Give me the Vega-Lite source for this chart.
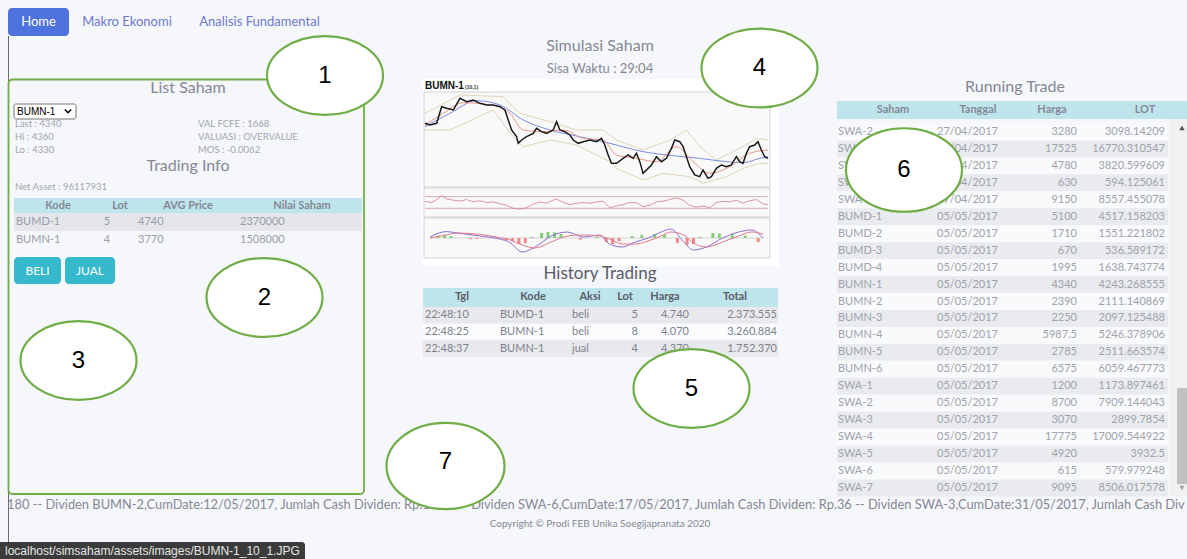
{
"$schema":"https://vega.github.io/schema/vega-lite/v6.json",
"width":1187,"height":559,"padding":0,"autosize":{"type":"none"},
"background":"#f5f7fa",
"config":{"view":{"stroke":null},"axis":{"disable":true},"legend":{"disable":true},"text":{"font":"Lato","fontSize":11,"color":"#858796"},"locale":{"number":{"decimal":",","thousands":".","grouping":[3],"currency":["Rp",""]}}},
"data":{"values":[{}]},
"datasets":{
"lefttable":[{"row":0,"kode":"BUMD-1","lot":5,"avg":4740,"nilai":2370000},{"row":1,"kode":"BUMN-1","lot":4,"avg":3770,"nilai":1508000}],
"history":[{"row":0,"tgl":"22:48:10","kode":"BUMD-1","aksi":"beli","lot":5,"harga":4740,"total":2373555},{"row":1,"tgl":"22:48:25","kode":"BUMN-1","aksi":"beli","lot":8,"harga":4070,"total":3260884},{"row":2,"tgl":"22:48:37","kode":"BUMN-1","aksi":"jual","lot":4,"harga":4370,"total":1752370}],
"runtrade":[
{"row":0,"saham":"SWA-2","tanggal":"27/04/2017","harga":3280,"lot":3098.14209},
{"row":1,"saham":"SWA-3","tanggal":"27/04/2017","harga":17525,"lot":16770.310547},
{"row":2,"saham":"SWA-4","tanggal":"27/04/2017","harga":4780,"lot":3820.599609},
{"row":3,"saham":"SWA-5","tanggal":"27/04/2017","harga":630,"lot":594.125061},
{"row":4,"saham":"SWA-6","tanggal":"27/04/2017","harga":9150,"lot":8557.455078},
{"row":5,"saham":"BUMD-1","tanggal":"05/05/2017","harga":5100,"lot":4517.158203},
{"row":6,"saham":"BUMD-2","tanggal":"05/05/2017","harga":1710,"lot":1551.221802},
{"row":7,"saham":"BUMD-3","tanggal":"05/05/2017","harga":670,"lot":536.589172},
{"row":8,"saham":"BUMD-4","tanggal":"05/05/2017","harga":1995,"lot":1638.743774},
{"row":9,"saham":"BUMN-1","tanggal":"05/05/2017","harga":4340,"lot":4243.268555},
{"row":10,"saham":"BUMN-2","tanggal":"05/05/2017","harga":2390,"lot":2111.140869},
{"row":11,"saham":"BUMN-3","tanggal":"05/05/2017","harga":2250,"lot":2097.125488},
{"row":12,"saham":"BUMN-4","tanggal":"05/05/2017","harga":5987.5,"lot":5246.378906},
{"row":13,"saham":"BUMN-5","tanggal":"05/05/2017","harga":2785,"lot":2511.663574},
{"row":14,"saham":"BUMN-6","tanggal":"05/05/2017","harga":6575,"lot":6059.467773},
{"row":15,"saham":"SWA-1","tanggal":"05/05/2017","harga":1200,"lot":1173.897461},
{"row":16,"saham":"SWA-2","tanggal":"05/05/2017","harga":8700,"lot":7909.144043},
{"row":17,"saham":"SWA-3","tanggal":"05/05/2017","harga":3070,"lot":2899.7854},
{"row":18,"saham":"SWA-4","tanggal":"05/05/2017","harga":17775,"lot":17009.544922},
{"row":19,"saham":"SWA-5","tanggal":"05/05/2017","harga":4920,"lot":3932.5},
{"row":20,"saham":"SWA-6","tanggal":"05/05/2017","harga":615,"lot":579.979248},
{"row":21,"saham":"SWA-7","tanggal":"05/05/2017","harga":9095,"lot":8506.017578}],
"close":[{"day":0,"p":5550},{"day":3,"p":5525},{"day":7,"p":5550},{"day":10,"p":5800},{"day":13,"p":5775},{"day":17,"p":5750},{"day":21,"p":5925},{"day":25,"p":5875},{"day":29,"p":5900},{"day":33,"p":5850},{"day":37,"p":5825},{"day":41,"p":5825},{"day":45,"p":5800},{"day":48,"p":5750},{"day":50,"p":5600},{"day":52,"p":5450},{"day":55,"p":5350},{"day":56,"p":5250},{"day":58,"p":5300},{"day":61,"p":5350},{"day":65,"p":5400},{"day":67,"p":5475},{"day":70,"p":5425},{"day":73,"p":5400},{"day":77,"p":5450},{"day":79,"p":5575},{"day":81,"p":5450},{"day":84,"p":5425},{"day":87,"p":5375},{"day":89,"p":5300},{"day":92,"p":5250},{"day":95,"p":5275},{"day":99,"p":5300},{"day":103,"p":5275},{"day":106,"p":5325},{"day":108,"p":5225},{"day":110,"p":5075},{"day":112,"p":4950},{"day":115,"p":4950},{"day":119,"p":5025},{"day":122,"p":5075},{"day":125,"p":5025},{"day":127,"p":5100},{"day":129,"p":4975},{"day":131,"p":4800},{"day":133,"p":4850},{"day":136,"p":4925},{"day":139,"p":5050},{"day":142,"p":4975},{"day":145,"p":5025},{"day":148,"p":5175},{"day":150,"p":5300},{"day":153,"p":5275},{"day":155,"p":5200},{"day":157,"p":5050},{"day":159,"p":4900},{"day":162,"p":4775},{"day":165,"p":4750},{"day":167,"p":4850},{"day":170,"p":4725},{"day":172,"p":4750},{"day":175,"p":4875},{"day":178,"p":4925},{"day":181,"p":4900},{"day":184,"p":4925},{"day":187,"p":5050},{"day":189,"p":4975},{"day":191,"p":4950},{"day":193,"p":5100},{"day":195,"p":5200},{"day":198,"p":5225},{"day":200,"p":5275},{"day":202,"p":5150},{"day":204,"p":5050},{"day":206,"p":5025}],
"mablue":[{"day":0,"p":5500},{"day":15,"p":5700},{"day":31,"p":5890},{"day":45,"p":5825},{"day":59,"p":5600},{"day":75,"p":5450},{"day":91,"p":5360},{"day":111,"p":5250},{"day":131,"p":5125},{"day":151,"p":5060},{"day":165,"p":5025},{"day":181,"p":4975},{"day":191,"p":4960},{"day":201,"p":5025},{"day":206,"p":5050}],
"mared":[{"day":0,"p":5525},{"day":11,"p":5700},{"day":23,"p":5860},{"day":43,"p":5810},{"day":51,"p":5700},{"day":59,"p":5450},{"day":71,"p":5425},{"day":83,"p":5450},{"day":95,"p":5325},{"day":107,"p":5300},{"day":115,"p":5075},{"day":127,"p":5025},{"day":139,"p":4975},{"day":151,"p":5200},{"day":161,"p":4975},{"day":171,"p":4800},{"day":183,"p":4900},{"day":195,"p":5100},{"day":206,"p":5150}],
"bbup":[{"day":0,"p":5700},{"day":21,"p":5975},{"day":47,"p":5950},{"day":57,"p":5700},{"day":75,"p":5575},{"day":91,"p":5450},{"day":107,"p":5450},{"day":115,"p":5300},{"day":131,"p":5150},{"day":147,"p":5300},{"day":157,"p":5450},{"day":165,"p":5200},{"day":175,"p":5000},{"day":191,"p":5200},{"day":199,"p":5325},{"day":206,"p":5300}],
"bblo":[{"day":0,"p":5450},{"day":15,"p":5450},{"day":41,"p":5750},{"day":53,"p":5350},{"day":59,"p":5200},{"day":75,"p":5300},{"day":91,"p":5225},{"day":111,"p":4975},{"day":115,"p":4875},{"day":131,"p":4700},{"day":143,"p":4800},{"day":159,"p":4750},{"day":167,"p":4650},{"day":181,"p":4750},{"day":191,"p":4875},{"day":201,"p":4950},{"day":206,"p":4950}],
"rsi":[{"day":0,"v":54},{"day":4,"v":50},{"day":7,"v":60},{"day":10,"v":74},{"day":13,"v":62},{"day":17,"v":58},{"day":21,"v":55},{"day":25,"v":60},{"day":29,"v":52},{"day":33,"v":56},{"day":37,"v":50},{"day":41,"v":52},{"day":45,"v":46},{"day":49,"v":40},{"day":53,"v":30},{"day":57,"v":27},{"day":61,"v":32},{"day":65,"v":45},{"day":69,"v":52},{"day":73,"v":48},{"day":77,"v":58},{"day":79,"v":62},{"day":83,"v":50},{"day":87,"v":43},{"day":91,"v":47},{"day":95,"v":50},{"day":99,"v":47},{"day":103,"v":52},{"day":107,"v":54},{"day":111,"v":32},{"day":115,"v":38},{"day":119,"v":43},{"day":123,"v":50},{"day":127,"v":49},{"day":131,"v":36},{"day":135,"v":40},{"day":139,"v":52},{"day":143,"v":55},{"day":147,"v":60},{"day":151,"v":66},{"day":155,"v":58},{"day":159,"v":40},{"day":163,"v":34},{"day":167,"v":38},{"day":171,"v":32},{"day":175,"v":50},{"day":179,"v":54},{"day":183,"v":52},{"day":187,"v":58},{"day":191,"v":48},{"day":195,"v":56},{"day":199,"v":60},{"day":203,"v":45},{"day":206,"v":43}],
"macd":[{"day":0,"m":0.05,"s":0.0},{"day":10,"m":0.32,"s":0.15},{"day":17,"m":0.25,"s":0.25},{"day":31,"m":0.1,"s":0.18},{"day":43,"m":-0.05,"s":0.02},{"day":49,"m":-0.2,"s":-0.08},{"day":57,"m":-0.7,"s":-0.35},{"day":65,"m":-0.45,"s":-0.5},{"day":75,"m":0.1,"s":-0.2},{"day":85,"m":0.3,"s":0.1},{"day":95,"m":0.05,"s":0.15},{"day":105,"m":0.15,"s":0.1},{"day":111,"m":-0.3,"s":-0.05},{"day":119,"m":-0.45,"s":-0.3},{"day":127,"m":-0.2,"s":-0.3},{"day":135,"m":0.0,"s":-0.15},{"day":143,"m":0.3,"s":0.1},{"day":149,"m":0.45,"s":0.3},{"day":157,"m":-0.2,"s":0.15},{"day":163,"m":-0.6,"s":-0.25},{"day":171,"m":-0.45,"s":-0.45},{"day":181,"m":0.0,"s":-0.2},{"day":191,"m":0.3,"s":0.1},{"day":199,"m":0.4,"s":0.3},{"day":206,"m":0.0,"s":0.2}],
"hist":[{"day":5,"h":0.12},{"day":9,"h":0.16},{"day":13,"h":0.1},{"day":25,"h":-0.06},{"day":29,"h":-0.05},{"day":47,"h":-0.1},{"day":51,"h":-0.15},{"day":55,"h":-0.3},{"day":59,"h":-0.25},{"day":63,"h":0.05},{"day":69,"h":0.25},{"day":73,"h":0.3},{"day":77,"h":0.28},{"day":81,"h":0.2},{"day":93,"h":-0.08},{"day":103,"h":0.06},{"day":109,"h":-0.2},{"day":113,"h":-0.3},{"day":117,"h":-0.15},{"day":125,"h":0.1},{"day":131,"h":0.15},{"day":139,"h":0.2},{"day":145,"h":0.18},{"day":153,"h":-0.25},{"day":159,"h":-0.35},{"day":163,"h":-0.3},{"day":167,"h":0.05},{"day":175,"h":0.25},{"day":179,"h":0.22},{"day":187,"h":0.2},{"day":195,"h":0.12},{"day":203,"h":-0.2}]
},
"layer":[
{"layer":[
 {"mark":{"type":"rect","fill":"#4e73df","cornerRadius":4},"encoding":{"x":{"datum":8,"type":"quantitative","scale":{"domain":[0,1187],"range":[0,1187],"nice":false,"zero":false}},"x2":{"datum":69},"y":{"datum":8,"type":"quantitative","scale":{"domain":[0,559],"range":[0,559],"nice":false,"zero":false}},"y2":{"datum":36}}},
 {"mark":{"type":"text","text":"Home","color":"#ffffff","fontSize":13},"encoding":{"x":{"datum":38.5},"y":{"datum":22}}},
 {"mark":{"type":"text","text":"Makro Ekonomi","color":"#6c78d0","fontSize":13},"encoding":{"x":{"datum":127},"y":{"datum":22}}},
 {"mark":{"type":"text","text":"Analisis Fundamental","color":"#6c78d0","fontSize":13},"encoding":{"x":{"datum":259.5},"y":{"datum":22}}},
 {"mark":{"type":"rule","color":"#6b6b6b","strokeWidth":1},"encoding":{"x":{"datum":8.5},"y":{"datum":36},"y2":{"datum":543}}},
 {"mark":{"type":"rect","fillOpacity":0,"stroke":"#70ad47","strokeWidth":1.8,"cornerRadius":4},"encoding":{"x":{"datum":8.5},"x2":{"datum":364},"y":{"datum":79.5},"y2":{"datum":494}}},
 {"mark":{"type":"text","text":"List Saham","fontSize":16},"encoding":{"x":{"datum":188},"y":{"datum":88}}},
 {"mark":{"type":"rect","fill":"#ffffff","stroke":"#767676","strokeWidth":1,"cornerRadius":2},"encoding":{"x":{"datum":14},"x2":{"datum":76},"y":{"datum":104},"y2":{"datum":119}}},
 {"mark":{"type":"text","text":"BUMN-1","font":"Liberation Sans","fontSize":10,"color":"#000000","align":"left"},"encoding":{"x":{"datum":17},"y":{"datum":112}}},
 {"mark":{"type":"point","shape":"M-0.8,-0.35L0,0.45L0.8,-0.35","size":64,"filled":false,"stroke":"#000000","strokeWidth":1.4,"opacity":1},"encoding":{"x":{"datum":68},"y":{"datum":111}}},
 {"mark":{"type":"text","text":"Last : 4340","fontSize":9.5,"color":"#a3a5b0","align":"left"},"encoding":{"x":{"datum":15},"y":{"datum":124}}},
 {"mark":{"type":"text","text":"Hi : 4360","fontSize":9.5,"color":"#a3a5b0","align":"left"},"encoding":{"x":{"datum":15},"y":{"datum":137}}},
 {"mark":{"type":"text","text":"Lo : 4330","fontSize":9.5,"color":"#a3a5b0","align":"left"},"encoding":{"x":{"datum":15},"y":{"datum":150}}},
 {"mark":{"type":"text","text":"VAL FCFE : 1668","fontSize":9.5,"color":"#a3a5b0","align":"left"},"encoding":{"x":{"datum":198},"y":{"datum":124}}},
 {"mark":{"type":"text","text":"VALUASI : OVERVALUE","fontSize":9.5,"color":"#a3a5b0","align":"left"},"encoding":{"x":{"datum":198},"y":{"datum":137}}},
 {"mark":{"type":"text","text":"MOS : -0.0062","fontSize":9.5,"color":"#a3a5b0","align":"left"},"encoding":{"x":{"datum":198},"y":{"datum":150}}},
 {"mark":{"type":"text","text":"Trading Info","fontSize":16},"encoding":{"x":{"datum":188},"y":{"datum":166}}},
 {"mark":{"type":"text","text":"Net Asset : 96117931","fontSize":9.5,"color":"#a3a5b0","align":"left"},"encoding":{"x":{"datum":15},"y":{"datum":187}}},
 {"mark":{"type":"rect","fill":"#bee5eb"},"encoding":{"x":{"datum":14},"x2":{"datum":362},"y":{"datum":198},"y2":{"datum":213}}},
 {"mark":{"type":"text","text":"Kode","fontWeight":"bold"},"encoding":{"x":{"datum":58},"y":{"datum":206}}},
 {"mark":{"type":"text","text":"Lot","fontWeight":"bold"},"encoding":{"x":{"datum":120},"y":{"datum":206}}},
 {"mark":{"type":"text","text":"AVG Price","fontWeight":"bold"},"encoding":{"x":{"datum":188},"y":{"datum":206}}},
 {"mark":{"type":"text","text":"Nilai Saham","fontWeight":"bold"},"encoding":{"x":{"datum":302},"y":{"datum":206}}},
 {"mark":{"type":"rect","fill":"#36b9cc","cornerRadius":4},"encoding":{"x":{"datum":14},"x2":{"datum":61},"y":{"datum":257},"y2":{"datum":284}}},
 {"mark":{"type":"rect","fill":"#36b9cc","cornerRadius":4},"encoding":{"x":{"datum":65},"x2":{"datum":115},"y":{"datum":257},"y2":{"datum":284}}},
 {"mark":{"type":"text","text":"BELI","color":"#ffffff","fontSize":12},"encoding":{"x":{"datum":37.5},"y":{"datum":270.5}}},
 {"mark":{"type":"text","text":"JUAL","color":"#ffffff","fontSize":12},"encoding":{"x":{"datum":90},"y":{"datum":270.5}}},
 {"mark":{"type":"text","text":"Simulasi Saham","fontSize":16},"encoding":{"x":{"datum":600},"y":{"datum":46}}},
 {"mark":{"type":"text","text":"Sisa Waktu : 29:04","fontSize":13},"encoding":{"x":{"datum":600},"y":{"datum":69}}},
 {"mark":{"type":"rect","fill":"#ffffff"},"encoding":{"x":{"datum":422},"x2":{"datum":779},"y":{"datum":79},"y2":{"datum":266}}},
 {"mark":{"type":"rect","fill":"#f9f9f9","stroke":"#c8c8c8","strokeWidth":0.8},"encoding":{"x":{"datum":424},"x2":{"datum":770},"y":{"datum":92},"y2":{"datum":187}}},
 {"mark":{"type":"rect","fill":"#f9f9f9","stroke":"#c8c8c8","strokeWidth":0.8},"encoding":{"x":{"datum":424},"x2":{"datum":770},"y":{"datum":188},"y2":{"datum":217}}},
 {"mark":{"type":"rect","fill":"#f9f9f9","stroke":"#c8c8c8","strokeWidth":0.8},"encoding":{"x":{"datum":424},"x2":{"datum":770},"y":{"datum":218},"y2":{"datum":258}}},
 {"mark":{"type":"text","text":"BUMN-1","font":"Liberation Sans","fontSize":10,"fontWeight":"bold","color":"#111111","align":"left"},"encoding":{"x":{"datum":425},"y":{"datum":86}}},
 {"mark":{"type":"text","text":"(10,1)","font":"Liberation Sans","fontSize":5,"fontWeight":"bold","color":"#333333","align":"left"},"encoding":{"x":{"datum":465},"y":{"datum":87}}},
 {"mark":{"type":"text","text":"History Trading","fontSize":17,"color":"#5a5c69"},"encoding":{"x":{"datum":600},"y":{"datum":274}}},
 {"mark":{"type":"rect","fill":"#bee5eb"},"encoding":{"x":{"datum":423},"x2":{"datum":778},"y":{"datum":288},"y2":{"datum":307}}},
 {"mark":{"type":"text","text":"Tgl","fontWeight":"bold","color":"#5a5c69"},"encoding":{"x":{"datum":462},"y":{"datum":297}}},
 {"mark":{"type":"text","text":"Kode","fontWeight":"bold","color":"#5a5c69"},"encoding":{"x":{"datum":533},"y":{"datum":297}}},
 {"mark":{"type":"text","text":"Aksi","fontWeight":"bold","color":"#5a5c69"},"encoding":{"x":{"datum":590},"y":{"datum":297}}},
 {"mark":{"type":"text","text":"Lot","fontWeight":"bold","color":"#5a5c69"},"encoding":{"x":{"datum":625},"y":{"datum":297}}},
 {"mark":{"type":"text","text":"Harga","fontWeight":"bold","color":"#5a5c69"},"encoding":{"x":{"datum":665},"y":{"datum":297}}},
 {"mark":{"type":"text","text":"Total","fontWeight":"bold","color":"#5a5c69"},"encoding":{"x":{"datum":735},"y":{"datum":297}}},
 {"mark":{"type":"text","text":"Running Trade","fontSize":16},"encoding":{"x":{"datum":1015},"y":{"datum":87}}},
 {"mark":{"type":"rect","fill":"#bee5eb"},"encoding":{"x":{"datum":837},"x2":{"datum":1187},"y":{"datum":101},"y2":{"datum":119}}},
 {"mark":{"type":"text","text":"Saham","fontWeight":"bold"},"encoding":{"x":{"datum":893},"y":{"datum":110}}},
 {"mark":{"type":"text","text":"Tanggal","fontWeight":"bold"},"encoding":{"x":{"datum":978},"y":{"datum":110}}},
 {"mark":{"type":"text","text":"Harga","fontWeight":"bold"},"encoding":{"x":{"datum":1052},"y":{"datum":110}}},
 {"mark":{"type":"text","text":"LOT","fontWeight":"bold"},"encoding":{"x":{"datum":1145},"y":{"datum":110}}},
 {"mark":{"type":"rect","fill":"#f1f1f1"},"encoding":{"x":{"datum":1170},"x2":{"datum":1187},"y":{"datum":119},"y2":{"datum":496}}},
 {"mark":{"type":"rect","fill":"#c1c1c1"},"encoding":{"x":{"datum":1177},"x2":{"datum":1187},"y":{"datum":388},"y2":{"datum":484}}},
 {"mark":{"type":"point","shape":"triangle-up","size":28,"filled":true,"color":"#505050","opacity":1},"encoding":{"x":{"datum":1182},"y":{"datum":128}}},
 {"mark":{"type":"point","shape":"triangle-down","size":28,"filled":true,"color":"#a3a3a3","opacity":1},"encoding":{"x":{"datum":1182},"y":{"datum":488}}},
 {"mark":{"type":"text","text":"180 -- Dividen BUMN-2,CumDate:12/05/2017, Jumlah Cash Dividen: Rp.187.5 -- Dividen SWA-6,CumDate:17/05/2017, Jumlah Cash Dividen: Rp.36 -- Dividen SWA-3,CumDate:31/05/2017, Jumlah Cash Div","fontSize":12.85,"color":"#858796","align":"left"},"encoding":{"x":{"datum":7},"y":{"datum":505}}},
 {"mark":{"type":"text","text":"Copyright © Prodi FEB Unika Soegijapranata 2020","fontSize":10,"color":"#858796"},"encoding":{"x":{"datum":600},"y":{"datum":524}}},
 {"mark":{"type":"rect","fill":"#3b3b3b","cornerRadiusTopRight":3},"encoding":{"x":{"datum":0},"x2":{"datum":305},"y":{"datum":542},"y2":{"datum":559}}},
 {"mark":{"type":"text","text":"localhost/simsaham/assets/images/BUMN-1_10_1.JPG","font":"Liberation Sans","fontSize":12,"color":"#e6e6e6","align":"left"},"encoding":{"x":{"datum":5},"y":{"datum":551}}}
]},
{"data":{"name":"lefttable"},
 "encoding":{"y":{"field":"row","type":"ordinal","scale":{"type":"band","domain":[0,1],"range":[213,249],"paddingInner":0,"paddingOuter":0}}},
 "layer":[
 {"mark":{"type":"rect"},"encoding":{"x":{"datum":14,"type":"quantitative","scale":{"domain":[0,1187],"range":[0,1187],"nice":false,"zero":false}},"x2":{"datum":362},"fill":{"condition":{"test":"datum.row % 2 == 0","value":"#e4e6ea"},"value":"#f5f7fa"}}},
 {"mark":{"type":"text","align":"left","color":"#9a9ca8"},"encoding":{"x":{"datum":16},"text":{"field":"kode","type":"nominal"}}},
 {"mark":{"type":"text","align":"center","color":"#9a9ca8"},"encoding":{"x":{"datum":107},"text":{"field":"lot","type":"nominal"}}},
 {"mark":{"type":"text","align":"left","color":"#9a9ca8"},"encoding":{"x":{"datum":138},"text":{"field":"avg","type":"nominal"}}},
 {"mark":{"type":"text","align":"left","color":"#9a9ca8"},"encoding":{"x":{"datum":240},"text":{"field":"nilai","type":"nominal"}}}
]},
{"data":{"name":"history"},
 "encoding":{"y":{"field":"row","type":"ordinal","scale":{"type":"band","domain":[0,1,2],"range":[307,357],"paddingInner":0,"paddingOuter":0}}},
 "layer":[
 {"mark":{"type":"rect"},"encoding":{"x":{"datum":423,"type":"quantitative","scale":{"domain":[0,1187],"range":[0,1187],"nice":false,"zero":false}},"x2":{"datum":778},"fill":{"condition":{"test":"datum.row % 2 == 0","value":"#e8e9ec"},"value":"#fafbfc"}}},
 {"mark":{"type":"text","align":"left","color":"#7f818d"},"encoding":{"x":{"datum":425},"text":{"field":"tgl","type":"nominal"}}},
 {"mark":{"type":"text","align":"left","color":"#7f818d"},"encoding":{"x":{"datum":500},"text":{"field":"kode","type":"nominal"}}},
 {"mark":{"type":"text","align":"left","color":"#7f818d"},"encoding":{"x":{"datum":572},"text":{"field":"aksi","type":"nominal"}}},
 {"mark":{"type":"text","align":"right","color":"#7f818d"},"encoding":{"x":{"datum":638},"text":{"field":"lot","type":"nominal"}}},
 {"mark":{"type":"text","align":"right","color":"#7f818d"},"encoding":{"x":{"datum":689},"text":{"field":"harga","type":"quantitative","format":","}}},
 {"mark":{"type":"text","align":"right","color":"#7f818d"},"encoding":{"x":{"datum":777},"text":{"field":"total","type":"quantitative","format":","}}}
]},
{"data":{"name":"runtrade"},
 "encoding":{"y":{"field":"row","type":"ordinal","scale":{"type":"band","domain":[0,1,2,3,4,5,6,7,8,9,10,11,12,13,14,15,16,17,18,19,20,21],"range":[123.5,496.5],"paddingInner":0,"paddingOuter":0}}},
 "layer":[
 {"mark":{"type":"rect"},"encoding":{"x":{"datum":837,"type":"quantitative","scale":{"domain":[0,1187],"range":[0,1187],"nice":false,"zero":false}},"x2":{"datum":1168},"fill":{"condition":{"test":"datum.row % 2 == 1","value":"#e9ebee"},"value":"#f9fafb"}}},
 {"mark":{"type":"text","align":"left","color":"#a0a2ac"},"encoding":{"x":{"datum":838},"text":{"field":"saham","type":"nominal"}}},
 {"mark":{"type":"text","align":"right","color":"#a0a2ac"},"encoding":{"x":{"datum":998},"text":{"field":"tanggal","type":"nominal"}}},
 {"mark":{"type":"text","align":"right","color":"#a0a2ac"},"encoding":{"x":{"datum":1077},"text":{"field":"harga","type":"nominal"}}},
 {"mark":{"type":"text","align":"right","color":"#a0a2ac"},"encoding":{"x":{"datum":1165},"text":{"field":"lot","type":"nominal"}}}
]},
{"encoding":{"x":{"field":"day","type":"quantitative","scale":{"domain":[0,206],"range":[425,768],"nice":false,"zero":false}},"y":{"field":"p","type":"quantitative","scale":{"domain":[4625,6005],"range":[185,93],"nice":false,"zero":false}}},
 "layer":[
 {"data":{"name":"bbup"},"mark":{"type":"line","color":"#d9c9a6","strokeWidth":0.8}},
 {"data":{"name":"bblo"},"mark":{"type":"line","color":"#d9c9a6","strokeWidth":0.8}},
 {"data":{"name":"mablue"},"mark":{"type":"line","color":"#7d8be0","strokeWidth":1,"interpolate":"monotone"}},
 {"data":{"name":"mared"},"mark":{"type":"line","color":"#e59a84","strokeWidth":1,"interpolate":"monotone"}},
 {"data":{"name":"close"},"mark":{"type":"line","color":"#1a1a1a","strokeWidth":1.5}}
]},
{"layer":[
 {"mark":{"type":"rule","color":"#c79a9a","strokeWidth":0.8},"encoding":{"x":{"datum":0,"type":"quantitative","scale":{"domain":[0,206],"range":[425,768],"nice":false,"zero":false}},"x2":{"datum":206},"y":{"datum":70,"type":"quantitative","scale":{"domain":[0,100],"range":[217,188],"nice":false,"zero":false}}}},
 {"mark":{"type":"rule","color":"#c79a9a","strokeWidth":0.8},"encoding":{"x":{"datum":0},"x2":{"datum":206},"y":{"datum":30}}},
 {"data":{"name":"rsi"},"mark":{"type":"line","color":"#d48a9a","strokeWidth":0.9},"encoding":{"x":{"field":"day","type":"quantitative"},"y":{"field":"v","type":"quantitative"}}}
]},
{"layer":[
 {"mark":{"type":"rule","color":"#bbbbbb","strokeWidth":0.6},"encoding":{"x":{"datum":0,"type":"quantitative","scale":{"domain":[0,206],"range":[425,768],"nice":false,"zero":false}},"x2":{"datum":206},"y":{"datum":0,"type":"quantitative","scale":{"domain":[-1,1],"range":[258,218],"nice":false,"zero":false}}}},
 {"data":{"name":"hist"},"mark":{"type":"bar","width":3},"encoding":{"x":{"field":"day","type":"quantitative"},"y":{"field":"h","type":"quantitative"},"y2":{"datum":0},"color":{"condition":{"test":"datum.h > 0","value":"#86cf7a"},"value":"#f08a8a"}}},
 {"data":{"name":"macd"},"mark":{"type":"line","color":"#8a6ed0","strokeWidth":1,"interpolate":"monotone"},"encoding":{"x":{"field":"day","type":"quantitative"},"y":{"field":"m","type":"quantitative"}}},
 {"data":{"name":"macd"},"mark":{"type":"line","color":"#e07a8a","strokeWidth":1,"interpolate":"monotone"},"encoding":{"x":{"field":"day","type":"quantitative"},"y":{"field":"s","type":"quantitative"}}}
]},
{"layer":[
 {"encoding":{"x":{"datum":325,"type":"quantitative","scale":{"domain":[0,1187],"range":[0,1187],"nice":false,"zero":false}},"y":{"datum":75.5,"type":"quantitative","scale":{"domain":[0,559],"range":[0,559],"nice":false,"zero":false}}},
  "layer":[{"mark":{"type":"point","shape":"M1,0C1,0.3756,0.5523,0.68,0,0.68C-0.5523,0.68,-1,0.3756,-1,0C-1,-0.3756,-0.5523,-0.68,0,-0.68C0.5523,-0.68,1,-0.3756,1,0Z","size":13456,"filled":true,"fill":"#ffffff","stroke":"#70ad47","strokeWidth":2.2,"opacity":1}},{"mark":{"type":"text","text":"1","font":"Liberation Sans","fontSize":24,"color":"#000000"}}]},
 {"encoding":{"x":{"datum":264.5},"y":{"datum":297.5}},
  "layer":[{"mark":{"type":"point","shape":"M1,0C1,0.3756,0.5523,0.68,0,0.68C-0.5523,0.68,-1,0.3756,-1,0C-1,-0.3756,-0.5523,-0.68,0,-0.68C0.5523,-0.68,1,-0.3756,1,0Z","size":13456,"filled":true,"fill":"#ffffff","stroke":"#70ad47","strokeWidth":2.2,"opacity":1}},{"mark":{"type":"text","text":"2","font":"Liberation Sans","fontSize":24,"color":"#000000"}}]},
 {"encoding":{"x":{"datum":78.5},"y":{"datum":360.5}},
  "layer":[{"mark":{"type":"point","shape":"M1,0C1,0.3756,0.5523,0.68,0,0.68C-0.5523,0.68,-1,0.3756,-1,0C-1,-0.3756,-0.5523,-0.68,0,-0.68C0.5523,-0.68,1,-0.3756,1,0Z","size":13456,"filled":true,"fill":"#ffffff","stroke":"#70ad47","strokeWidth":2.2,"opacity":1}},{"mark":{"type":"text","text":"3","font":"Liberation Sans","fontSize":24,"color":"#000000"}}]},
 {"encoding":{"x":{"datum":759.5},"y":{"datum":68}},
  "layer":[{"mark":{"type":"point","shape":"M1,0C1,0.3756,0.5523,0.68,0,0.68C-0.5523,0.68,-1,0.3756,-1,0C-1,-0.3756,-0.5523,-0.68,0,-0.68C0.5523,-0.68,1,-0.3756,1,0Z","size":13456,"filled":true,"fill":"#ffffff","stroke":"#70ad47","strokeWidth":2.2,"opacity":1}},{"mark":{"type":"text","text":"4","font":"Liberation Sans","fontSize":24,"color":"#000000"}}]},
 {"encoding":{"x":{"datum":691.5},"y":{"datum":388.5}},
  "layer":[{"mark":{"type":"point","shape":"M1,0C1,0.3756,0.5523,0.68,0,0.68C-0.5523,0.68,-1,0.3756,-1,0C-1,-0.3756,-0.5523,-0.68,0,-0.68C0.5523,-0.68,1,-0.3756,1,0Z","size":13456,"filled":true,"fill":"#ffffff","stroke":"#70ad47","strokeWidth":2.2,"opacity":1}},{"mark":{"type":"text","text":"5","font":"Liberation Sans","fontSize":24,"color":"#000000"}}]},
 {"encoding":{"x":{"datum":904},"y":{"datum":170}},
  "layer":[{"mark":{"type":"point","shape":"M1,0C1,0.3973,0.5523,0.72,0,0.72C-0.5523,0.72,-1,0.3973,-1,0C-1,-0.3973,-0.5523,-0.72,0,-0.72C0.5523,-0.72,1,-0.3973,1,0Z","size":13456,"filled":true,"fill":"#ffffff","stroke":"#70ad47","strokeWidth":2.2,"opacity":1}},{"mark":{"type":"text","text":"6","font":"Liberation Sans","fontSize":24,"color":"#000000"}}]},
 {"encoding":{"x":{"datum":445.5},"y":{"datum":466}},
  "layer":[{"mark":{"type":"point","shape":"M1,0C1,0.4031,0.5523,0.73,0,0.73C-0.5523,0.73,-1,0.4031,-1,0C-1,-0.4031,-0.5523,-0.73,0,-0.73C0.5523,-0.73,1,-0.4031,1,0Z","size":13924,"filled":true,"fill":"#ffffff","stroke":"#70ad47","strokeWidth":2.2,"opacity":1}},{"mark":{"type":"text","text":"7","font":"Liberation Sans","fontSize":24,"color":"#000000","dy":-4}}]}
]}
],
"resolve":{"scale":{"x":"independent","y":"independent"}}
}
